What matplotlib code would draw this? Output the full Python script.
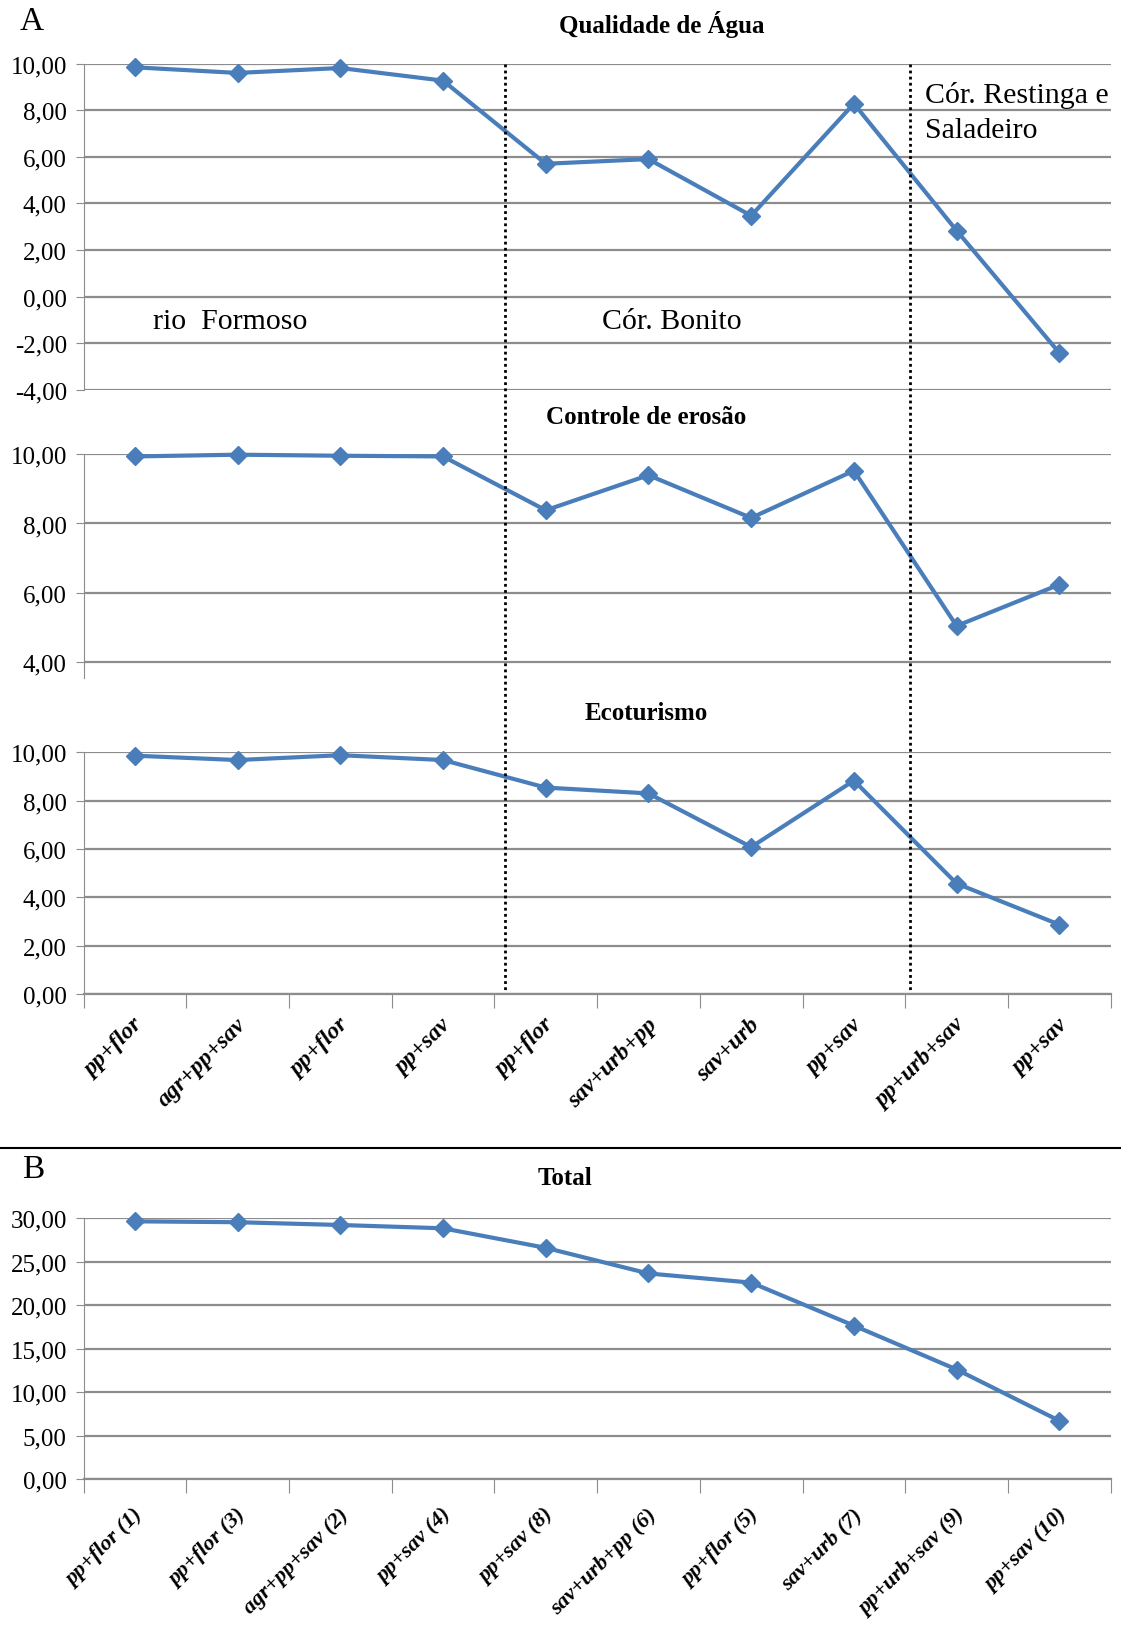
import numpy as np
import matplotlib
matplotlib.use('Agg')
import matplotlib.pyplot as plt
from matplotlib.lines import Line2D
from matplotlib.ticker import FuncFormatter
import matplotlib.transforms as mtransforms

plt.rcParams['font.family'] = ['Liberation Serif', 'DejaVu Serif']

# data
cats_a = ['pp+flor', 'agr+pp+sav', 'pp+flor', 'pp+sav', 'pp+flor',
          'sav+urb+pp', 'sav+urb', 'pp+sav', 'pp+urb+sav', 'pp+sav']
agua = [9.84, 9.60, 9.81, 9.27, 5.70, 5.90, 3.47, 8.28, 2.83, -2.42]
erosao = [9.93, 9.98, 9.95, 9.93, 8.38, 9.39, 8.16, 9.52, 5.05, 6.24]
ecoturismo = [9.86, 9.68, 9.88, 9.68, 8.54, 8.30, 6.08, 8.83, 4.57, 2.87]

cats_b = ['pp+flor (1)', 'pp+flor (3)', 'agr+pp+sav (2)', 'pp+sav (4)', 'pp+sav (8)',
          'sav+urb+pp (6)', 'pp+flor (5)', 'sav+urb (7)', 'pp+urb+sav (9)', 'pp+sav (10)']
total = [29.65, 29.55, 29.23, 28.85, 26.60, 23.65, 22.60, 17.65, 12.60, 6.70]

region_div = [3.6, 7.55]

blue = '#4a7ebb'
grid_c = '#8c8c8c'

W, H = 1121, 1633
fig = plt.figure(figsize=(W / 100, H / 100), dpi=100)


def px_axes(top, bottom, left=83.5, right=1110.7):
    return fig.add_axes([left / W, 1 - bottom / H, (right - left) / W, (bottom - top) / H])


comma = FuncFormatter(lambda v, p: ('%.2f' % v).replace('.', ','))


def style(ax, ylim, yticks, show_x=False):
    ax.set_xlim(-0.5, 9.5)
    ax.set_ylim(*ylim)
    ax.set_yticks(yticks)
    ax.yaxis.set_major_formatter(comma)
    ax.grid(axis='y', color=grid_c, lw=1.6)
    ax.set_axisbelow(True)
    for s in ['top', 'right']:
        ax.spines[s].set_visible(False)
    ax.spines['left'].set_color(grid_c)
    ax.spines['left'].set_linewidth(0.8)
    ax.tick_params(axis='y', length=6, color=grid_c, labelsize=18, pad=6)
    if show_x:
        ax.spines['bottom'].set_color(grid_c)
        ax.spines['bottom'].set_linewidth(1.6)
        ax.set_xticks(np.arange(-0.5, 10, 1))
        ax.set_xticklabels([])
        ax.tick_params(axis='x', which='major', length=10, color=grid_c)
    else:
        ax.spines['bottom'].set_visible(False)
        ax.set_xticks([])


def draw(ax, vals):
    ax.plot(np.arange(len(vals)), vals, color=blue, lw=3, marker='D', ms=9,
            markeredgecolor=blue, zorder=3, clip_on=False)


ax1 = px_axes(64.6, 390.7)
draw(ax1, agua)
style(ax1, (-4, 10), np.arange(-4, 11, 2))

ax2 = px_axes(455.0, 679.0)
draw(ax2, erosao)
style(ax2, (3.55, 10), np.arange(4, 11, 2))

ax3 = px_axes(753.3, 995.0)
draw(ax3, ecoturismo)
style(ax3, (0, 10), np.arange(0, 11, 2), show_x=True)

ax4 = px_axes(1219.3, 1480.0)
draw(ax4, total)
style(ax4, (0, 30), np.arange(0, 31, 5), show_x=True)

for ax, cats, pad, fs in [(ax3, cats_a, 20, 17), (ax4, cats_b, 25, 16)]:
    for i, c in enumerate(cats):
        off = mtransforms.ScaledTranslation(-2 / 100, -pad / 100, fig.dpi_scale_trans)
        ax.text(i, 0, c, rotation=45, ha='right', va='top', rotation_mode='anchor',
                transform=mtransforms.blended_transform_factory(ax.transData, ax.transAxes) + off,
                fontsize=fs, fontweight='bold', fontstyle='italic')

# region labels
ax1.text(0.18, -1.05, 'rio  Formoso', fontsize=21.5, va='center', ha='left')
ax1.text(4.55, -1.05, 'Cór. Bonito', fontsize=21.5, va='center', ha='left')
ax1.text(7.69, 8.66, 'Cór. Restinga e', fontsize=21.5, va='center', ha='left')
ax1.text(7.69, 7.14, 'Saladeiro', fontsize=21.5, va='center', ha='left')

# dotted dividers across the three upper panels
tr = mtransforms.blended_transform_factory(ax3.transData, fig.transFigure)
for xd in region_div:
    fig.add_artist(Line2D([xd, xd], [1 - 64.6 / H, 1 - 992 / H], transform=tr,
                          color='black', lw=2, ls=(0, (1, 1.2))))

# titles
fig.text(662 / W, 1 - 25 / H, 'Qualidade de Água', ha='center', va='center',
         fontsize=18, fontweight='bold')
fig.text(646 / W, 1 - 417 / H, 'Controle de erosão', ha='center', va='center',
         fontsize=18, fontweight='bold')
fig.text(646 / W, 1 - 714 / H, 'Ecoturismo', ha='center', va='center',
         fontsize=18, fontweight='bold')
fig.text(565 / W, 1 - 1179 / H, 'Total', ha='center', va='center',
         fontsize=18, fontweight='bold')

fig.text(20 / W, 1 - 22 / H, 'A', ha='left', va='center', fontsize=24)
fig.text(22 / W, 1 - 1170 / H, 'B', ha='left', va='center', fontsize=24)

fig.add_artist(Line2D([0, 1], [1 - 1149 / H, 1 - 1149 / H], transform=fig.transFigure,
                      color='black', lw=1.5))

fig.savefig('out.png', dpi=100)
